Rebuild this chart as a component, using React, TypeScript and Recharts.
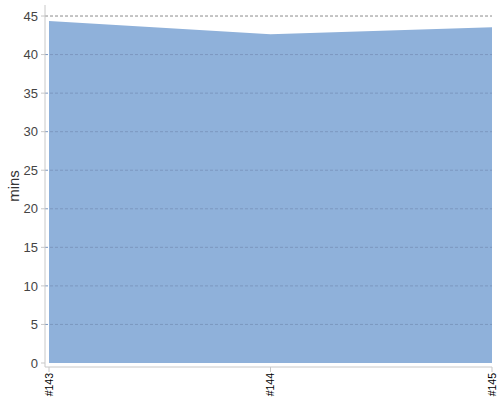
import React from "react";
import { Area, AreaChart, ReferenceLine, XAxis, YAxis } from "recharts";

// Build numbers on the x axis
const builds = ["#143", "#144", "#145"];
// Duration per build, in minutes
const durations = [44.35, 42.65, 43.55];
// Y axis ticks
const yTicks = [0, 5, 10, 15, 20, 25, 30, 35, 40, 45];

const data = builds.map((name, i) => ({ name, mins: durations[i] }));

const BuildTick = (props: any) => {
  const { x, y, payload } = props;
  return (
    <g transform={`translate(${x},${y})`}>
      <text
        x={-1}
        y={0}
        dy="0.35em"
        transform="rotate(-90)"
        textAnchor="end"
        fontSize={10.5}
        fill="#000"
        fontFamily="'Liberation Sans', Arial, sans-serif"
      >
        {payload.value}
      </text>
    </g>
  );
};

const MinsLabel = (props: any) => {
  const { viewBox } = props;
  const cx = 13;
  const cy = viewBox.y + viewBox.height / 2;
  return (
    <text
      x={cx}
      y={cy}
      transform={`rotate(-90, ${cx}, ${cy})`}
      textAnchor="middle"
      dominantBaseline="central"
      fontSize={15}
      fill="#333"
      fontFamily="'Liberation Sans', Arial, sans-serif"
    >
      mins
    </text>
  );
};

export default function App() {
  return (
    <div style={{ position: "absolute", left: 0, top: 0 }}>
      <AreaChart width={500} height={400} data={data} margin={{ top: 5, right: 8, bottom: 0, left: 0 }}>
        <XAxis
          dataKey="name"
          height={33}
          padding={{ left: 4, right: 0 }}
          stroke="#c8c8c8"
          tickSize={5}
          tickMargin={0}
          tick={<BuildTick />}
          interval={0}
        />
        <YAxis
          width={45}
          domain={[-0.52, 46.43]}
          allowDataOverflow
          ticks={yTicks}
          stroke="#c8c8c8"
          tickSize={4}
          tickMargin={3}
          tick={{ fontSize: 13, fill: "#444", fontFamily: "'Liberation Sans', Arial, sans-serif" }}
          label={<MinsLabel />}
        />
        <Area
          type="linear"
          dataKey="mins"
          fill="#8fb1da"
          fillOpacity={1}
          stroke="none"
          isAnimationActive={false}
        />
        {yTicks.slice(1).map((t) => (
          <ReferenceLine
            key={t}
            y={t}
            stroke={t === 45 ? "#8c8c8c" : "#7c97bf"}
            strokeDasharray="3 2"
            strokeWidth={1}
          />
        ))}
      </AreaChart>
    </div>
  );
}
